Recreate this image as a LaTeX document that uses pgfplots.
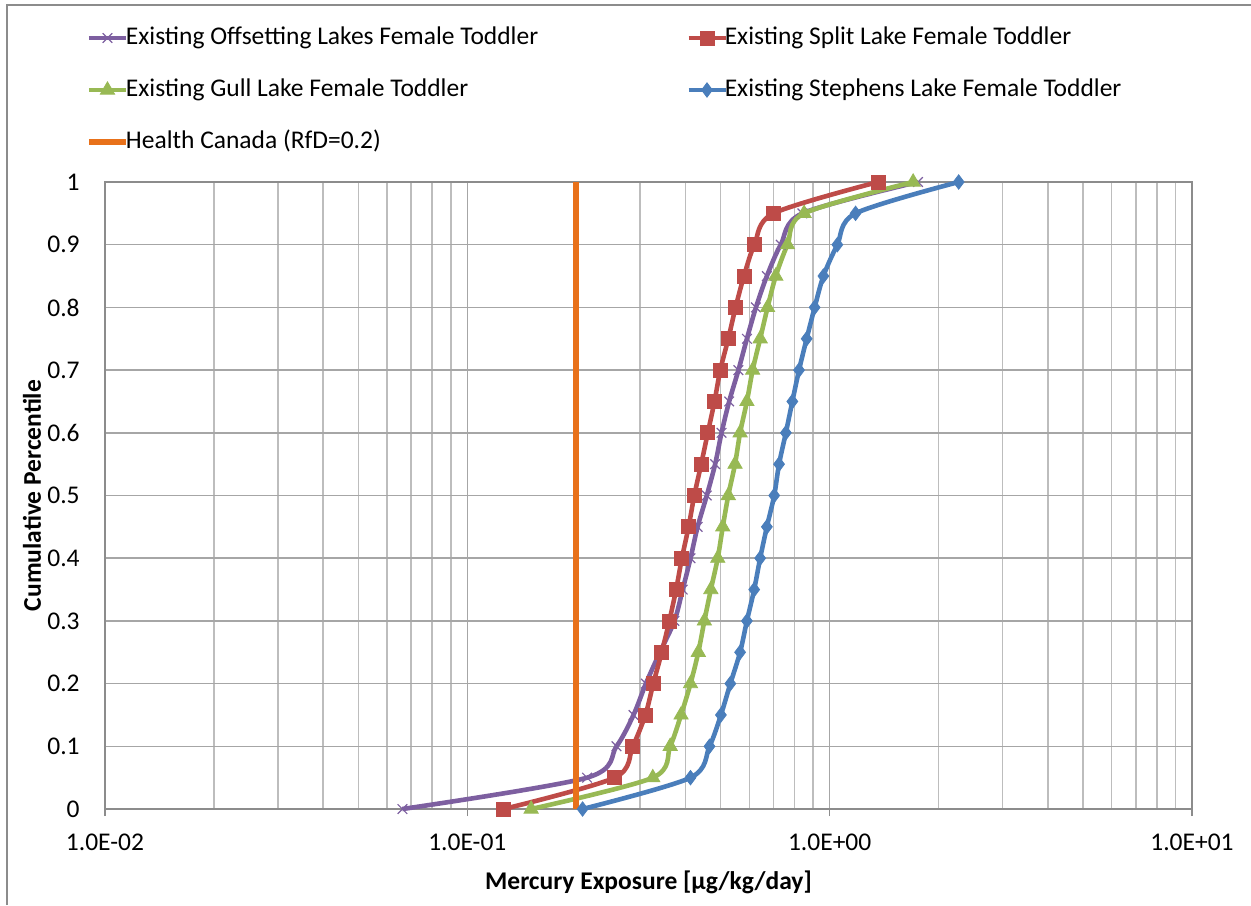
\documentclass[border=0pt]{standalone}
\usepackage{pgfplots}
\pgfplotsset{compat=1.18}
\usepackage{pgfplotstable}
\usepackage{fontspec}
\setmainfont{Carlito}
\definecolor{cPurple}{HTML}{7D5FA0}
\definecolor{cRed}{HTML}{BE4B48}
\definecolor{cGreen}{HTML}{98B954}
\definecolor{cBlue}{HTML}{4A7EBB}
\definecolor{cOrange}{HTML}{E8711A}
\definecolor{cGridMaj}{HTML}{A6A6A6}
\definecolor{cGridMin}{HTML}{BDBDBD}
\definecolor{cAxis}{HTML}{8C8C8C}

\pgfplotstableread{
x y
0.0662 0
0.214 0.05
0.258 0.1
0.2875 0.15
0.311 0.2
0.340 0.25
0.373 0.3
0.393 0.35
0.413 0.4
0.432 0.45
0.458 0.5
0.483 0.55
0.503 0.6
0.528 0.65
0.560 0.7
0.591 0.75
0.626 0.8
0.671 0.85
0.733 0.9
0.841 0.95
1.754 1.0
}\offsetting

\pgfplotstableread{
x y
0.126 0
0.255 0.05
0.286 0.1
0.310 0.15
0.326 0.2
0.344 0.25
0.361 0.3
0.377 0.35
0.391 0.4
0.408 0.45
0.423 0.5
0.442 0.55
0.461 0.6
0.481 0.65
0.499 0.7
0.525 0.75
0.550 0.8
0.580 0.85
0.620 0.9
0.700 0.95
1.360 1.0
}\split

\pgfplotstableread{
x y
0.150 0
0.325 0.05
0.363 0.1
0.389 0.15
0.413 0.2
0.434 0.25
0.451 0.3
0.470 0.35
0.491 0.4
0.507 0.45
0.525 0.5
0.548 0.55
0.566 0.6
0.591 0.65
0.613 0.7
0.643 0.75
0.674 0.8
0.710 0.85
0.765 0.9
0.850 0.95
1.700 1.0
}\gull

\pgfplotstableread{
x y
0.208 0
0.413 0.05
0.466 0.1
0.501 0.15
0.532 0.2
0.566 0.25
0.591 0.3
0.619 0.35
0.643 0.4
0.671 0.45
0.703 0.5
0.725 0.55
0.757 0.6
0.789 0.65
0.823 0.7
0.864 0.75
0.909 0.8
0.961 0.85
1.050 0.9
1.179 0.95
2.270 1.0
}\stephens

\begin{document}
\fontsize{12.75}{15}\selectfont
\begin{tikzpicture}
\path[use as bounding box] (0pt,0pt) rectangle (625.5pt,-452.5pt);
\draw[cAxis, line width=0.6pt] (3.5pt,-452.5pt) -- (3.5pt,-2.5pt) -- (625.5pt,-2.5pt);
\begin{axis}[
  at={(52.5pt,-404.5pt)}, anchor=south west,
  scale only axis, width=543.5pt, height=313.5pt,
  xmode=log, xmin=0.01, xmax=10, ymin=0, ymax=1,
  log basis x=10,
  xtick={0.01,0.1,1,10},
  xticklabels={1.0E-02,1.0E-01,1.0E+00,1.0E+01},
  ytick={0,0.1,0.2,0.3,0.4,0.5,0.6,0.7,0.8,0.9,1},
  yticklabels={0,0.1,0.2,0.3,0.4,0.5,0.6,0.7,0.8,0.9,1},
  minor xtick={0.02,0.03,0.04,0.05,0.06,0.07,0.08,0.09,0.2,0.3,0.4,0.5,0.6,0.7,0.8,0.9,2,3,4,5,6,7,8,9},
  xmajorgrids, xminorgrids, ymajorgrids,
  major grid style={cGridMaj, line width=0.75pt},
  minor grid style={cGridMin, line width=0.75pt},
  axis line style={cAxis, line width=0.75pt},
  x tick style={cAxis, line width=0.75pt},
  xtick pos=bottom, tick align=outside,
  major tick length=3.5pt, minor tick length=0pt,
  ytick style={draw=none},
  xticklabel style={anchor=center, yshift=-13pt, inner sep=0pt},
  yticklabel style={anchor=east, inner sep=0pt, xshift=-9pt},
  xlabel={\bfseries Mercury Exposure [µg/kg/day]},
  ylabel={\bfseries Cumulative Percentile},
  every axis x label/.style={at={(axis description cs:0.5,-0.1164)}, anchor=center},
  every axis y label/.style={at={(axis description cs:-0.0672,0.5)}, anchor=center, rotate=90},
  legend columns=2,
  legend cell align=left,
  legend style={at={(axis description cs:-0.0175,1.2488)}, anchor=north west,
    draw=none, fill=none, inner sep=0pt, outer sep=0pt,
    row sep=14pt,
    nodes={inner sep=0pt, text height=9pt, text depth=3pt},
    /tikz/every odd column/.append style={column sep=-1.5pt},
    /tikz/every even column/.append style={column sep=74pt}},
  legend image code/.code={\draw[mark repeat=2, mark phase=2, #1] plot coordinates {(0pt,0pt) (9.25pt,0pt) (18.5pt,0pt)};},
  clip=false,
]
\addplot[cPurple, line width=2.3pt, smooth, mark=x, mark size=3.4pt, mark options={line width=0.6pt, solid}] table[x=x,y=y] {\offsetting};
\addlegendentry{Existing Offsetting Lakes Female Toddler}
\addplot[cRed, line width=2.3pt, smooth, mark=square*, mark size=3.5pt, mark options={line width=0.4pt, solid, fill=cRed}] table[x=x,y=y] {\split};
\addlegendentry{Existing Split Lake Female Toddler}
\addplot[cGreen, line width=2.3pt, smooth, mark=triangle*, mark size=4.1pt, mark options={line width=0.4pt, solid, fill=cGreen}] table[x=x,y=y] {\gull};
\addlegendentry{Existing Gull Lake Female Toddler}
\addplot[cBlue, line width=2.3pt, smooth, mark=diamond*, mark size=3.6pt, mark options={line width=0.4pt, solid, fill=cBlue}] table[x=x,y=y] {\stephens};
\addlegendentry{Existing Stephens Lake Female Toddler}
\addplot[cOrange, line width=3pt, no marks] coordinates {(0.2,0) (0.2,1)};
\addlegendentry{Health Canada (RfD=0.2)}
\end{axis}
\end{tikzpicture}
\end{document}
